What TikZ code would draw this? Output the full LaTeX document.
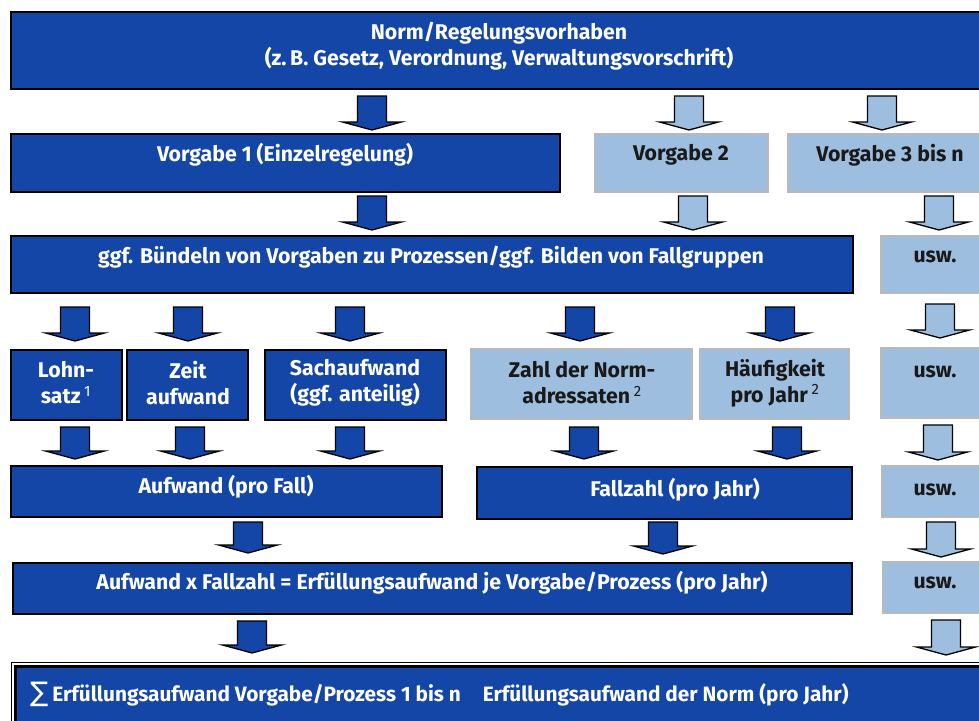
\documentclass[tikz,border=0pt]{standalone}
\usepackage{fontspec}
\setmainfont{Fira Sans}
\newfontfamily\dejavu{DejaVu Sans}
\definecolor{dblue}{RGB}{20,70,168}
\definecolor{lblue}{RGB}{157,190,223}
\definecolor{lgray}{RGB}{185,185,185}
\definecolor{tblack}{RGB}{25,25,25}
\tikzset{
  dbox/.style={draw=black, line width=1.6pt, fill=dblue, inner sep=0pt},
  lbox/.style={draw=lgray, line width=1.6pt, fill=lblue, inner sep=0pt},
  wtxt/.style={text=white, font=\fontsize{21.3}{26}\selectfont\bfseries, align=center, inner sep=0pt},
  btxt/.style={wtxt, text=tblack},
  darr/.style={fill=dblue, draw=black, line width=1.3pt, line join=miter},
  larr/.style={fill=lblue, draw=black, line width=1.3pt, line join=miter},
  pics/darrow/.style={code={\draw[darr] (-14.5,0) -- (14.5,0) -- (14.5,#1) -- (29.5,#1) -- (0,#1+8) -- (-29.5,#1) -- (-14.5,#1) -- cycle;}},
  pics/darrow/.default=26,
  pics/larrow/.style={code={\draw[larr] (-14.5,0) -- (14.5,0) -- (14.5,#1) -- (29.5,#1) -- (0,#1+8) -- (-29.5,#1) -- (-14.5,#1) -- cycle;}},
  pics/larrow/.default=26,
}
\newcommand\fnm[1]{\,{\mdseries\textsuperscript{#1}}}
\begin{document}
\begin{tikzpicture}[x=1pt,y=-1pt]
\clip (0,0) rectangle (979,720);
\fill[white] (0,0) rectangle (979,720);
% top
\node[dbox, minimum width=979pt, minimum height=77pt] (top) at (500.5,50.5) {};
\node[wtxt] (topt) at (499,46) {Norm/Regelungsvorhaben\\(z.\,B. Gesetz, Verordnung, Verwaltungsvorschrift)};
% row 1 arrows
\pic (a11) at (372,96) {darrow=26};
\pic (a12) at (689,96) {larrow=26};
\pic (a13) at (882,96) {larrow=26};
% Vorgaben
\node[dbox, minimum width=549pt, minimum height=58pt] (v1) at (285.5,163) {};
\node[wtxt] (v1t) at (285,155) {Vorgabe 1 (Einzelregelung)};
\node[lbox, minimum width=173pt, minimum height=58pt] (v2) at (681.5,163) {};
\node[btxt] (v2t) at (681,155) {Vorgabe 2};
\node[lbox, minimum width=207pt, minimum height=58pt] (v3) at (891.5,163) {};
\node[btxt] (v3t) at (890,155) {Vorgabe 3 bis n};
% row 2 arrows
\pic (a21) at (372,196) {darrow=26};
\pic (a22) at (693,196) {larrow=26};
\pic (a23) at (939,196) {larrow=26};
% Buendeln
\node[dbox, minimum width=842pt, minimum height=57pt] (bund) at (432,264.5) {};
\node[wtxt] (bundt) at (431,257) {ggf. Bündeln von Vorgaben zu Prozessen/ggf. Bilden von Fallgruppen};
\node[lbox, minimum width=114pt, minimum height=57pt] (u1) at (938,264.5) {};
\node[btxt] (u1t) at (935,257) {usw.};
% row 3 arrows
\pic (a31) at (75,307) {darrow=26};
\pic (a32) at (188,307) {darrow=26};
\pic (a33) at (350,307) {darrow=26};
\pic (a34) at (580,307) {darrow=26};
\pic (a35) at (780,307) {darrow=26};
\pic (a36) at (940,304) {larrow=26};
% factors
\node[dbox, minimum width=111pt, minimum height=70pt] (lohn) at (66.5,385) {};
\node[wtxt] (lohnt) at (66,383) {Lohn-\\satz\fnm{1}};
\node[dbox, minimum width=121pt, minimum height=70pt] (zeit) at (187.5,385) {};
\node[wtxt] (zeitt) at (188,383) {Zeit\\aufwand};
\node[dbox, minimum width=181pt, minimum height=70pt] (sach) at (355.5,385) {};
\node[wtxt] (sacht) at (355,383) {Sachaufwand\\(ggf. anteilig)};
\node[lbox, minimum width=221pt, minimum height=70pt] (zahl) at (581.5,384) {};
\node[btxt] (zahlt) at (582,383) {Zahl der Norm-\\adressaten\fnm{2}};
\node[lbox, minimum width=149pt, minimum height=70pt] (haeuf) at (774.5,384) {};
\node[btxt] (haeuft) at (775,383) {Häufigkeit\\pro Jahr\fnm{2}};
\node[lbox, minimum width=114pt, minimum height=70pt] (u2) at (938,383) {};
\node[btxt] (u2t) at (935,372) {usw.};
% row 5 arrows
\pic (a51) at (75,427) {darrow=24};
\pic (a52) at (190,427) {darrow=24};
\pic (a53) at (350,427) {darrow=24};
\pic (a54) at (584,427) {darrow=24};
\pic (a55) at (787,427) {darrow=24};
\pic (a56) at (938,425) {larrow=27};
% Aufwand / Fallzahl
\node[dbox, minimum width=431pt, minimum height=51pt] (aufw) at (226.5,491.5) {};
\node[wtxt] (aufwt) at (226,487) {Aufwand (pro Fall)};
\node[dbox, minimum width=375pt, minimum height=52pt] (fall) at (664.5,493) {};
\node[wtxt] (fallt) at (675,490) {Fallzahl (pro Jahr)};
\node[lbox, minimum width=113pt, minimum height=51pt] (u3) at (938.5,491.5) {};
\node[btxt] (u3t) at (935,490) {usw.};
% row 7 arrows
\pic (a71) at (248,522) {darrow=23};
\pic (a72) at (663,522) {darrow=24};
\pic (a73) at (941,522) {larrow=27};
% product
\node[dbox, minimum width=839pt, minimum height=51pt] (prod) at (432.5,588.5) {};
\node[wtxt] (prodt) at (432,583) {Aufwand x Fallzahl = Erfüllungsaufwand je Vorgabe/Prozess (pro Jahr)};
\node[lbox, minimum width=112pt, minimum height=51pt] (u4) at (939,587.5) {};
\node[btxt] (u4t) at (935,583) {usw.};
% row 9 arrows
\pic (a91) at (252,621) {darrow=24};
\pic (a92) at (946,620) {larrow=27};
% bottom
\node[draw=black, line width=1pt, minimum width=984pt, minimum height=78pt, inner sep=0pt] (bout) at (503,701) {};
\node[dbox, line width=3pt, minimum width=976pt, minimum height=74pt] (bin) at (503,703) {};
\node[wtxt, anchor=west, font=\fontsize{20.8}{26}\selectfont\bfseries] (bt) at (30,694) {{\dejavu\mdseries\fontsize{27}{27}\selectfont ∑}\hspace{4pt}Erfüllungsaufwand Vorgabe/Prozess 1 bis n\hspace{22pt}Erfüllungsaufwand der Norm (pro Jahr)};
\end{tikzpicture}
\end{document}
